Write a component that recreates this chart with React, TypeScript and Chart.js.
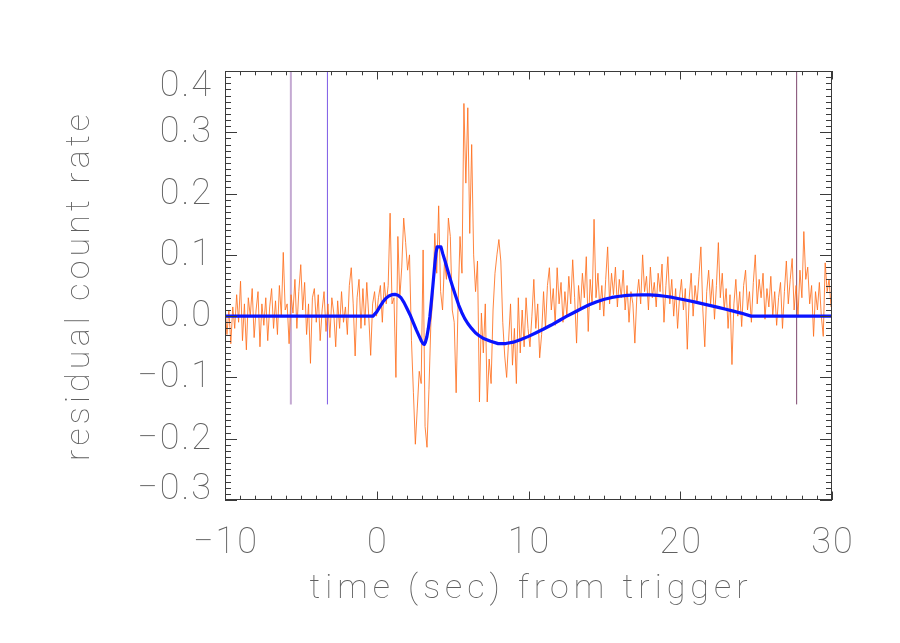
import { useEffect, useRef } from 'react';
import { Chart, registerables } from 'chart.js';

Chart.register(...registerables);

// ---- axis ranges & ticks ----
const X_MIN = -10;
const X_MAX = 30;
const Y_MIN = -0.3;
const Y_MAX = 0.4;
const xTickValues = [-10, 0, 10, 20, 30];
const xTickLabels = ['\u221210', '0', '10', '20', '30'];
const yTickValues = [0.4, 0.3, 0.2, 0.1, 0.0, -0.1, -0.2, -0.3];
const yTickLabels = ['0.4', '0.3', '0.2', '0.1', '0.0', '\u22120.1', '\u22120.2', '\u22120.3'];
const xTitle = 'time (sec) from trigger';
const yTitle = 'residual count rate';

// ---- residual count rate (0.128 s bins starting at -10 s) ----
const BIN_START = -10;
const BIN_WIDTH = 0.128;
const residualPre = [
  0.02, -0.03, 0.01, -0.045, 0.015, -0.02, 0.035, -0.01, 0.057, -0.04,
  0.02, -0.055, 0.03, 0.0, 0.045, -0.035, 0.01, 0.04, -0.05, 0.02,
  -0.015, 0.03, -0.04, 0.015, 0.045, -0.02, 0.025, -0.03, 0.05, 0.0,
  0.104, 0.01, 0.02, -0.045, 0.035, 0.005, 0.06, -0.02, 0.04, 0.084,
  0.01, 0.055, -0.03, 0.02, -0.077, 0.03, 0.045, -0.01, 0.035, -0.04,
  0.01, 0.04, -0.025, 0.02, -0.035, 0.03, 0.005, -0.05, 0.025, -0.02,
  0.04, -0.01, 0.015, -0.03, 0.05, 0.079, 0.02, -0.065, 0.03, 0.06,
  -0.02, 0.045, -0.015, 0.055, 0.0, -0.064, 0.02, 0.04, 0.0,
];
const residualBurst = [
  0.03, 0.05, -0.01, 0.055, 0.02, 0.05, 0.168, 0.02, 0.03, -0.1,
  0.13, 0.03, 0.08, 0.16, 0.12, 0.075, 0.1, -0.04, -0.125, -0.209,
  -0.15, -0.09, -0.11, 0.108, -0.18, -0.214, -0.12, -0.01, 0.027, 0.135,
  0.07, 0.18, 0.04, 0.01, 0.09, 0.06, 0.16, 0.13, 0.01, -0.01,
  -0.125, 0.02, 0.13, 0.07, 0.347, 0.217, 0.34, 0.135, 0.28, 0.1,
  0.04, 0.09, -0.14, 0.005, -0.06, 0.02, -0.14, -0.07, -0.11, 0.01,
  0.07, 0.1, 0.125, 0.09, -0.01, -0.065, -0.1, -0.04, 0.02, -0.08,
  -0.02, -0.11, 0.03, -0.06, 0.01, -0.05, 0.03, -0.02,
];
const residualDecay = [
  -0.05, 0.0, 0.06, -0.02, 0.02, -0.068, -0.03, 0.04, -0.02, 0.05,
  0.079, 0.01, 0.045, -0.015, 0.079, 0.02, 0.055, -0.01, 0.04, 0.0,
  0.065, 0.02, 0.092, 0.03, -0.044, 0.05, 0.01, 0.07, 0.03, 0.097,
  -0.025, 0.06, 0.02, 0.158, 0.03, 0.07, 0.01, 0.05, 0.0, 0.06,
  0.113, 0.02, 0.07, 0.035, 0.08, 0.015, 0.06, 0.03, 0.075, 0.01,
  0.05, -0.01, 0.04, 0.02, -0.044, 0.03, 0.06, 0.02, 0.1, 0.04,
  0.065, 0.01, 0.08, 0.03, 0.055, 0.015, 0.07, 0.04, 0.085, -0.01,
  0.05, 0.097, 0.02, 0.06, 0.0, 0.045, -0.02, 0.03,
];
const residualLate = [
  0.06, 0.01, 0.045, -0.054, 0.03, 0.07, 0.0, 0.05, 0.02, 0.065,
  0.113, 0.01, -0.05, 0.04, 0.075, 0.02, 0.06, -0.005, 0.05, 0.12,
  0.03, 0.07, 0.01, 0.045, -0.02, 0.035, -0.079, 0.02, 0.06, 0.0,
  0.04, -0.017, 0.05, 0.075, 0.01, 0.04, -0.01, 0.055, 0.1, 0.02,
  0.06, 0.03, 0.07, -0.005, 0.045, 0.015, 0.065, 0.0, 0.04, -0.015,
  0.03, 0.055, -0.02, 0.04, 0.09, 0.02, 0.06, 0.094, 0.01, 0.05,
  0.0, 0.075, 0.03, 0.138, 0.06, 0.08, 0.02, 0.05, -0.033, 0.04,
  0.01, 0.055, 0.0, -0.033, 0.087, 0.04, 0.06, 0.015,
];

// ---- fitted model curve ----
const modelT = [
  -10, -0.25, 0.0, 0.2, 0.4, 0.6, 0.8, 1.0, 1.2, 1.4, 1.6, 1.8, 2.0, 2.2, 2.4, 2.6, 2.8, 2.95, 3.05, 3.13,
  3.2, 3.3, 3.4, 3.5, 3.6, 3.7, 3.8, 3.9, 3.98, 4.23, 4.35, 4.5, 4.65, 4.8, 5.0, 5.2, 5.4, 5.6, 5.8, 6.0,
  6.25, 6.5, 6.75, 7.0, 7.5, 8.0, 8.5, 9.0, 9.5, 10.0, 10.5, 11.0, 11.5, 12.0, 12.5, 13.0, 13.5, 14.0,
  14.5, 15.0, 15.5, 16.0, 16.5, 17.0, 17.5, 18.0, 18.5, 19.0, 19.5, 20.0, 20.5, 21.0, 21.5, 22.0, 22.5,
  23.0, 23.5, 24.0, 24.67, 30,
];
const modelV = [
  0, 0, 0.007, 0.015, 0.023, 0.029, 0.033, 0.035, 0.0355, 0.034, 0.03, 0.022, 0.012, 0.002, -0.01, -0.022, -0.033, -0.041, -0.045, -0.046,
  -0.043, -0.034, -0.02, -0.001, 0.024, 0.05, 0.078, 0.103, 0.113, 0.113, 0.102, 0.09, 0.077, 0.064, 0.048, 0.033, 0.018, 0.006, -0.004, -0.012,
  -0.02, -0.027, -0.032, -0.036, -0.041, -0.0448, -0.0447, -0.0425, -0.038, -0.033, -0.027, -0.021, -0.0145, -0.0075, -0.0005, 0.006, 0.0125, 0.0185,
  0.0235, 0.0275, 0.0305, 0.0325, 0.0338, 0.0345, 0.0348, 0.0347, 0.034, 0.0325, 0.0305, 0.028, 0.0255, 0.0228, 0.02, 0.0172, 0.0143,
  0.0113, 0.0082, 0.005, 0, 0,
];

// ---- interval markers ----
const markerT = [-5.66, -3.25, 27.67];
const markerColors = ['rgba(190,160,205,0.9)', 'rgb(125,90,230)', 'rgb(125,70,110)'];
const markerWidths = [2, 1, 1];
const MARKER_LOW = -0.144;

const FONT_FAMILY = 'Roboto, "DejaVu Sans", sans-serif';

function drawSpaced(ctx: CanvasRenderingContext2D, text: string, cx: number, cy: number, spacing: number, align: 'center' | 'right') {
  const chars = Array.from(text);
  const widths = chars.map((c) => ctx.measureText(c).width);
  const total = widths.reduce((a, b) => a + b, 0) + spacing * (chars.length - 1);
  let x = align === 'center' ? cx - total / 2 : cx - total;
  ctx.textAlign = 'left';
  ctx.textBaseline = 'middle';
  chars.forEach((c, i) => {
    ctx.fillText(c, x, cy);
    x += widths[i] + spacing;
  });
}

function fitSpacing(ctx: CanvasRenderingContext2D, text: string, target: number) {
  const chars = Array.from(text);
  const w = chars.map((c) => ctx.measureText(c).width).reduce((a, b) => a + b, 0);
  return (target - w) / Math.max(1, chars.length - 1);
}

const idlAxes = {
  id: 'idlAxes',
  afterDraw(chart: any) {
    const { ctx, chartArea, scales } = chart;
    const { left, right, top, bottom } = chartArea;
    const xs = scales.x;
    const ys = scales.y;
    ctx.save();
    ctx.strokeStyle = '#3a3a3a';
    ctx.lineWidth = 1;
    ctx.strokeRect(left + 0.5, top + 0.5, right - left - 1, bottom - top - 1);
    ctx.beginPath();
    for (let k = X_MIN; k <= X_MAX; k += 1) {
      const px = Math.round(xs.getPixelForValue(k)) + 0.5;
      const len = k % 10 === 0 ? 8.5 : 4.3;
      ctx.moveTo(px, bottom);
      ctx.lineTo(px, bottom - len);
      ctx.moveTo(px, top);
      ctx.lineTo(px, top + len);
    }
    for (let k = Math.round(Y_MIN * 100); k <= Math.round(Y_MAX * 100); k += 1) {
      const py = Math.round(ys.getPixelForValue(k / 100)) + 0.5;
      const len = k % 10 === 0 ? 12 : 6;
      ctx.moveTo(left, py);
      ctx.lineTo(left + len, py);
      ctx.moveTo(right, py);
      ctx.lineTo(right - len, py);
    }
    ctx.stroke();

    ctx.fillStyle = '#606060';
    ctx.font = `100 36px ${FONT_FAMILY}`;
    xTickValues.forEach((v, i) => {
      drawSpaced(ctx, xTickLabels[i], xs.getPixelForValue(v), 544, 2, 'center');
    });
    yTickValues.forEach((v, i) => {
      let py = ys.getPixelForValue(v);
      py = Math.max(top + 15, Math.min(bottom - 11, py));
      drawSpaced(ctx, yTickLabels[i], left - 14, py + 1, 2, 'right');
    });
    ctx.font = `100 34px ${FONT_FAMILY}`;
    const cx = (left + right) / 2;
    drawSpaced(ctx, xTitle, cx, 589, fitSpacing(ctx, xTitle, 438), 'center');
    ctx.save();
    ctx.translate(80, (top + bottom) / 2 + 2);
    ctx.rotate(-Math.PI / 2);
    drawSpaced(ctx, yTitle, 0, 0, fitSpacing(ctx, yTitle, 347), 'center');
    ctx.restore();
    ctx.restore();
  },
};

export default function App() {
  const canvasRef = useRef<HTMLCanvasElement>(null);
  useEffect(() => {
    const residual = [...residualPre, ...residualBurst, ...residualDecay, ...residualLate];
    const residualData = residual.map((v, i) => ({ x: BIN_START + i * BIN_WIDTH, y: v }));
    const modelData = modelT.map((t, i) => ({ x: t, y: modelV[i] }));
    const markerSets = markerT.map((t, i) => ({
      label: `marker${i}`,
      data: [
        { x: t, y: MARKER_LOW },
        { x: t, y: Y_MAX },
      ],
      borderColor: markerColors[i],
      borderWidth: markerWidths[i],
      pointRadius: 0,
      order: 3,
    }));
    const chart = new Chart(canvasRef.current!, {
      type: 'line',
      data: {
        datasets: [
          {
            label: 'model',
            data: modelData,
            borderColor: '#0a14ff',
            borderWidth: 3.2,
            pointRadius: 0,
            tension: 0,
            borderJoinStyle: 'round',
            order: 1,
          },
          {
            label: 'residual',
            data: residualData,
            borderColor: 'rgba(255,112,30,0.85)',
            borderWidth: 1,
            pointRadius: 0,
            tension: 0,
            order: 2,
          },
          ...markerSets,
        ] as any,
      },
      options: {
        animation: false,
        responsive: true,
        maintainAspectRatio: false,
        events: [],
        layout: { padding: { left: 225, right: 68, top: 71, bottom: 143 } },
        plugins: { legend: { display: false }, tooltip: { enabled: false } },
        scales: {
          x: { type: 'linear', min: X_MIN, max: X_MAX, display: false },
          y: { type: 'linear', min: Y_MIN, max: Y_MAX, display: false },
        },
      },
      plugins: [idlAxes],
    });
    return () => chart.destroy();
  }, []);
  return (
    <div style={{ position: 'fixed', left: 0, top: 0, width: 900, height: 643, background: '#fff' }}>
      <canvas ref={canvasRef} />
    </div>
  );
}
